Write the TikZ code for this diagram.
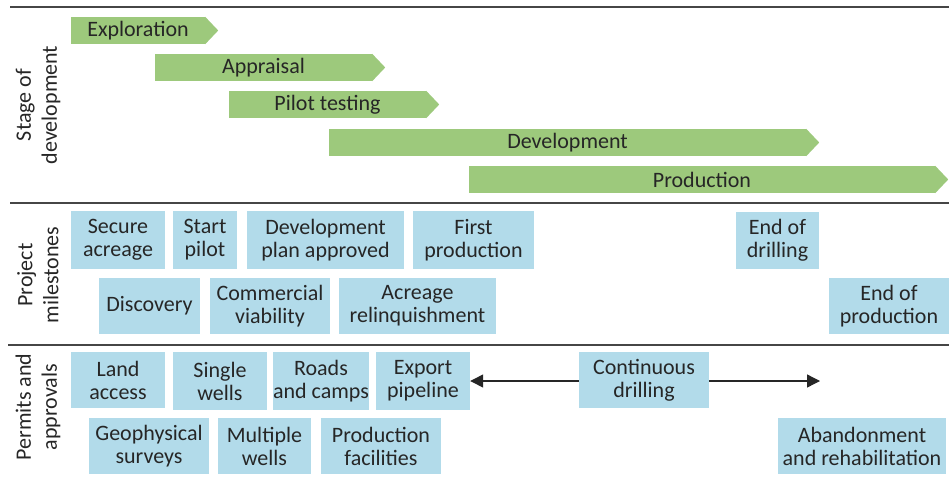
\documentclass[tikz,border=0pt]{standalone}
\usepackage{fontspec}
\setmainfont{Carlito}
\usetikzlibrary{arrows.meta}
\definecolor{stagegreen}{RGB}{157,201,124}
\definecolor{boxblue}{RGB}{178,219,234}
\definecolor{txt}{RGB}{38,38,38}
\definecolor{rule}{RGB}{70,70,70}
\begin{document}
\begin{tikzpicture}[x=1pt,y=-1pt,
  every node/.style={text=txt,font=\fontsize{22}{23}\selectfont},
  stagebody/.style={fill=stagegreen,inner sep=0pt,minimum height=27pt},
  mbox/.style={fill=boxblue,inner sep=0pt,align=center},
  seclabel/.style={rotate=90,align=center,font=\fontsize{22}{26}\selectfont},
  sep/.style={draw=rule,line width=2pt},
  arr/.style={draw=txt,line width=1.3pt,-{Triangle[length=13pt,width=13pt]}}]
\useasboundingbox (0,0) rectangle (949,476);
% separators
\coordinate (s1a) at (10,7);   \coordinate (s1b) at (949,7);
\coordinate (s2a) at (10,203); \coordinate (s2b) at (949,203);
\coordinate (s3a) at (8,345);  \coordinate (s3b) at (949,345);
\draw[sep] (s1a) -- (s1b);
\draw[sep] (s2a) -- (s2b);
\draw[sep] (s3a) -- (s3b);
% section labels
\node[seclabel] (lstage) at (38,105) {Stage of\\development};
\node[seclabel] (lmile) at (38,275) {Project\\milestones};
\node[seclabel] (lperm) at (38,407) {Permits and\\approvals};
% stages
\node[stagebody,minimum width=134pt] (explo) at (138,30.5) {Exploration};
\node[stagebody,minimum width=217pt] (appr) at (263.5,67.5) {Appraisal};
\node[stagebody,minimum width=197pt] (pilot) at (327.5,104.5) {Pilot testing};
\node[stagebody,minimum width=477pt] (devel) at (567.5,142.5) {Development};
\node[stagebody,minimum width=466pt] (prod) at (702,179.5) {Production};
\foreach \n in {explo,appr,pilot,devel,prod}{
  \fill[stagegreen] (\n.north east) -- ([xshift=13pt]\n.east) -- (\n.south east) -- cycle;
}
% milestones
\node[mbox,minimum width=94pt,minimum height=58pt] (secure) at (118,240) {Secure\\acreage};
\node[mbox,minimum width=64pt,minimum height=58pt] (start) at (205,240) {Start\\pilot};
\node[mbox,minimum width=157pt,minimum height=58pt] (dplan) at (325.5,240) {Development\\plan approved};
\node[mbox,minimum width=121pt,minimum height=58pt] (first) at (473.5,240) {First\\production};
\node[mbox,minimum width=83pt,minimum height=57pt] (enddrill) at (777.5,240.5) {End of\\drilling};
\node[mbox,minimum width=101pt,minimum height=56pt] (disc) at (149.5,306) {Discovery};
\node[mbox,minimum width=120pt,minimum height=56pt] (comm) at (270,306) {Commercial\\viability};
\node[mbox,minimum width=157pt,minimum height=56pt] (relinq) at (417.5,306) {Acreage\\relinquishment};
\node[mbox,minimum width=120pt,minimum height=56pt] (endprod) at (889,306) {End of\\production};
% permits
\node[mbox,minimum width=94pt,minimum height=56pt] (land) at (118,380) {Land\\access};
\node[mbox,minimum width=94pt,minimum height=58pt] (single) at (220,381) {Single\\wells};
\node[mbox,minimum width=94pt,minimum height=58pt] (roads) at (321,381) {Roads\\and camps};
\node[mbox,minimum width=94pt,minimum height=58pt] (export) at (423,381) {Export\\pipeline};
\node[mbox,minimum width=130pt,minimum height=56pt] (cont) at (644,380) {Continuous\\drilling};
\node[mbox,minimum width=120pt,minimum height=56pt] (geo) at (149,446) {Geophysical\\surveys};
\node[mbox,minimum width=93pt,minimum height=56pt] (multi) at (264.5,446) {Multiple\\wells};
\node[mbox,minimum width=120pt,minimum height=56pt] (facil) at (381,446) {Production\\facilities};
\node[mbox,minimum width=168pt,minimum height=56pt] (aband) at (862,446) {Abandonment\\and rehabilitation};
% arrows
\coordinate (rtip) at (820,381);
\draw[arr] (cont.west |- 0,381) -- (export.east |- 0,381);
\draw[arr] (cont.east |- 0,381) -- (rtip);
\end{tikzpicture}
\end{document}
